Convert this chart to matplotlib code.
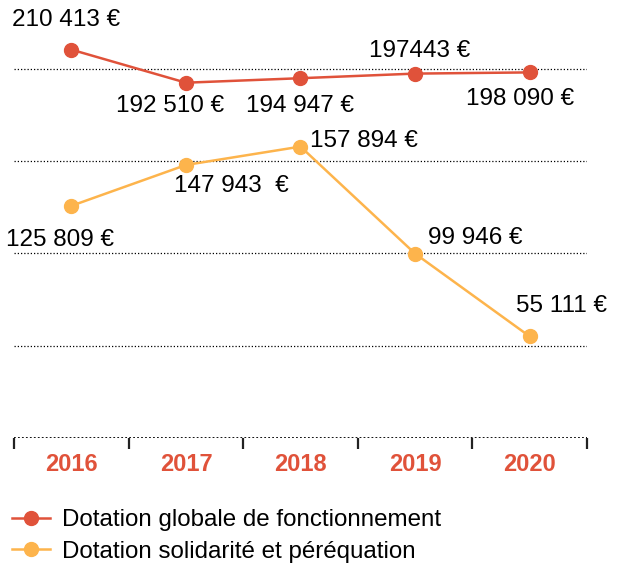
import matplotlib.pyplot as plt
from matplotlib.ticker import FixedLocator

plt.rcParams['font.family'] = ['Liberation Sans', 'DejaVu Sans']

# data
years = ['2016', '2017', '2018', '2019', '2020']
dgf = [210413, 192510, 194947, 197443, 198090]
dsp = [125809, 147943, 157894, 99946, 55111]
dgf_labels = ['210 413 €', '192 510 €', '194 947 €', '197443 €', '198 090 €']
dsp_labels = ['125 809 €', '147 943  €', '157 894 €', '99 946 €', '55 111 €']
gridlines = [50000, 100000, 150000, 200000]

red = '#e0523a'
orange = '#fdb44c'

fig = plt.figure(figsize=(6.17, 5.63), dpi=100)
ax = fig.add_axes([0.023, 0.222, 0.928, 0.754])

x = list(range(len(years)))

# dotted gridlines
for g in gridlines:
    ax.axhline(g, color='black', linewidth=0.9, linestyle=(0, (1, 1.6)), zorder=1)
ax.axhline(0, color='black', linewidth=1.3, linestyle=(0, (1, 1.2)), zorder=1)

ax.plot(x, dgf, color=red, marker='o', markersize=10, linewidth=1.8,
        label='Dotation globale de fonctionnement', zorder=3)
ax.plot(x, dsp, color=orange, marker='o', markersize=10, linewidth=1.8,
        label='Dotation solidarité et péréquation', zorder=3)

# value labels (offsets in points)
dgf_off = [(-4, 21.5), (-11.5, -16.5), (0, -20), (3, 16), (-7, -19.5)]
dsp_off = [(-8, -24.5), (33, -15), (7, 4), (9.5, 11), (-9.5, 22)]
dsp_ha = ['center', 'center', 'left', 'left', 'left']
for i in x:
    ax.annotate(dgf_labels[i], (x[i], dgf[i]), xytext=dgf_off[i],
                textcoords='offset points', ha='center', va='center',
                fontsize=17.5, color='black')
for i in x:
    ax.annotate(dsp_labels[i], (x[i], dsp[i]), xytext=dsp_off[i],
                textcoords='offset points', ha=dsp_ha[i], va='center',
                fontsize=17.5, color='black')

ax.set_xlim(-0.5, 4.5)
ax.set_ylim(0, 230000)

# ticks at category boundaries, labels at centers
ax.xaxis.set_major_locator(FixedLocator([i - 0.5 for i in range(len(years) + 1)]))
ax.xaxis.set_major_formatter(plt.NullFormatter())
ax.xaxis.set_minor_locator(FixedLocator(x))
ax.set_xticklabels(years, minor=True)
ax.tick_params(axis='x', which='major', length=8, width=1.6, color='#222222',
               direction='out')
ax.tick_params(axis='x', which='minor', length=0, pad=11, labelsize=17,
               labelcolor=red)
for lab in ax.get_xticklabels(minor=True):
    lab.set_fontweight('bold')
ax.set_yticks([])
for s in ax.spines.values():
    s.set_visible(False)

fig.legend(loc='lower left', bbox_to_anchor=(0.011, -0.008), frameon=False,
           fontsize=17.4, handlelength=1.6, handletextpad=0.5,
           labelspacing=0.38, borderpad=0.2, borderaxespad=0.0)

fig.savefig('out.png', dpi=100)
